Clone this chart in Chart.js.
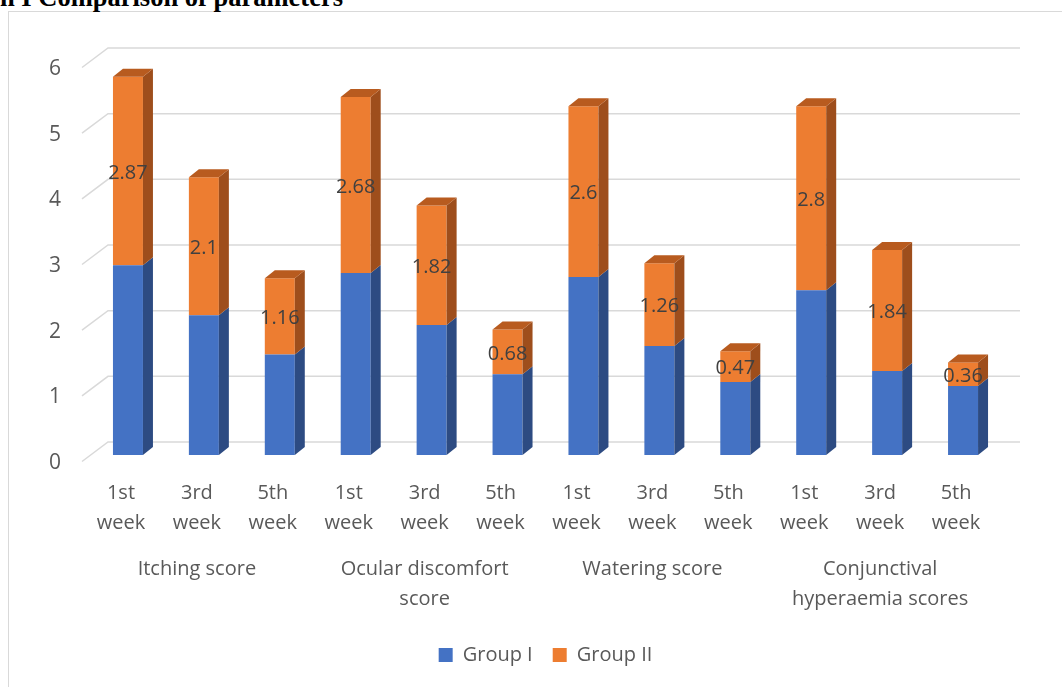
<!DOCTYPE html>
<html>
<head>
<meta charset="utf-8">
<script src="https://cdn.jsdelivr.net/npm/chart.js@4"></script>
<style>
html,body{margin:0;padding:0;background:#fff;overflow:hidden;}
#wrap{position:relative;width:1062px;height:687px;overflow:hidden;}
#frame{position:absolute;left:8px;top:11px;width:1100px;height:720px;border:1.5px solid #d9d9d9;box-sizing:border-box;}
#title{position:absolute;right:719px;top:-16px;font:bold 26.5px "Liberation Serif","Times New Roman",serif;line-height:26px;white-space:nowrap;color:#000;}
canvas{position:absolute;left:0;top:0;}
</style>
</head>
<body>
<div id="wrap">
  <div id="frame"></div>
  <div id="title">Graph I Comparison of parameters</div>
  <canvas id="c" width="1062" height="687"></canvas>
</div>
<script>
const weekLabels = [
  ["1st","week"],["3rd","week"],["5th","week"],
  ["1st","week"],["3rd","week"],["5th","week"],
  ["1st","week"],["3rd","week"],["5th","week"],
  ["1st","week"],["3rd","week"],["5th","week"]
];
const groupLabels = ["Itching score", ["Ocular discomfort","score"], "Watering score", ["Conjunctival","hyperaemia scores"]];
const groupI  = [2.89, 2.13, 1.53, 2.77, 1.98, 1.23, 2.71, 1.66, 1.11, 2.51, 1.28, 1.05];
const groupII = [2.87, 2.1, 1.16, 2.68, 1.82, 0.68, 2.6, 1.26, 0.47, 2.8, 1.84, 0.36];
const yMin = 0, yMax = 6, yStep = 1;

const FONT = "'Open Sans', 'Noto Sans', sans-serif";
const frontColors = ['#4472C4', '#ED7D31'];
const sideColors = ['#2D4B82', '#9E4E1C'];
const topColors = ['#3A62A8', '#B85B1F'];
const DX = 10, DY = 8;

const gridPlugin = {
  id: 'grid3d',
  beforeDatasetsDraw(chart) {
    const {ctx, chartArea: {left, right}, scales: {y}} = chart;
    ctx.save();
    ctx.strokeStyle = '#d9d9d9';
    ctx.lineWidth = 1.5;
    y.ticks.forEach(t => {
      const py = y.getPixelForValue(t.value);
      ctx.beginPath();
      ctx.moveTo(left - 8, py + 6.5);
      ctx.lineTo(left + 18, py - 13);
      ctx.lineTo(right + 19, py - 13);
      ctx.stroke();
    });
    ctx.restore();
  }
};

const facesPlugin = {
  id: 'faces3d',
  afterDatasetsDraw(chart) {
    const ctx = chart.ctx;
    const last = chart.data.datasets.length - 1;
    ctx.save();
    chart.data.datasets.forEach((ds, di) => {
      const meta = chart.getDatasetMeta(di);
      meta.data.forEach(bar => {
        const p = bar.getProps(['x', 'y', 'base', 'width'], true);
        const l = p.x - p.width / 2, r = p.x + p.width / 2;
        ctx.fillStyle = sideColors[di];
        ctx.beginPath();
        ctx.moveTo(r, p.y);
        ctx.lineTo(r + DX, p.y - DY);
        ctx.lineTo(r + DX, p.base - DY);
        ctx.lineTo(r, p.base);
        ctx.closePath();
        ctx.fill();
        if (di === last) {
          ctx.fillStyle = topColors[di];
          ctx.beginPath();
          ctx.moveTo(l, p.y);
          ctx.lineTo(l + DX, p.y - DY);
          ctx.lineTo(r + DX, p.y - DY);
          ctx.lineTo(r, p.y);
          ctx.closePath();
          ctx.fill();
        }
      });
    });
    const meta = chart.getDatasetMeta(1);
    ctx.fillStyle = '#404040';
    ctx.font = "20px " + FONT;
    ctx.textAlign = 'center';
    ctx.textBaseline = 'middle';
    meta.data.forEach((bar, i) => {
      const p = bar.getProps(['x', 'y', 'base'], true);
      ctx.fillText(String(groupII[i]), p.x, (p.y + p.base) / 2 + 2);
    });
    ctx.restore();
  }
};

const tickFont = {family: FONT, size: 20, lineHeight: 1.5};

new Chart(document.getElementById('c'), {
  type: 'bar',
  data: {
    labels: weekLabels,
    datasets: [
      {label: 'Group I', data: groupI, backgroundColor: frontColors[0], categoryPercentage: 1, barPercentage: 0.395},
      {label: 'Group II', data: groupII, backgroundColor: frontColors[1], categoryPercentage: 1, barPercentage: 0.395}
    ]
  },
  options: {
    responsive: false,
    animation: false,
    layout: {padding: {top: 61, right: 61, bottom: 12, left: 0}},
    plugins: {
      tooltip: {enabled: false},
      legend: {
        position: 'bottom',
        fullSize: false,
        labels: {
          boxWidth: 14, boxHeight: 14, padding: 20,
          color: '#595959',
          font: {family: FONT, size: 20}
        }
      }
    },
    scales: {
      x: {
        stacked: true,
        weight: 0,
        grid: {display: false, drawTicks: false},
        border: {display: false},
        ticks: {color: '#595959', font: tickFont, padding: 23, labelOffset: -7, maxRotation: 0, autoSkip: false},
        afterFit(s) { s.height = 90; }
      },
      x2: {
        type: 'category',
        labels: groupLabels,
        position: 'bottom',
        offset: true,
        weight: 1,
        grid: {display: false, drawTicks: false},
        border: {display: false},
        ticks: {color: '#595959', font: tickFont, padding: 9, labelOffset: -7, maxRotation: 0, autoSkip: false},
        afterFit(s) { s.height = 80; }
      },
      y: {
        stacked: true,
        min: yMin, max: yMax,
        grid: {display: false, drawTicks: false},
        border: {display: false},
        ticks: {stepSize: yStep, color: '#595959', font: {family: FONT, size: 21}, padding: 29, labelOffset: 8},
        afterFit(s) { s.width = 90; }
      }
    }
  },
  plugins: [gridPlugin, facesPlugin]
});
</script>
</body>
</html>
